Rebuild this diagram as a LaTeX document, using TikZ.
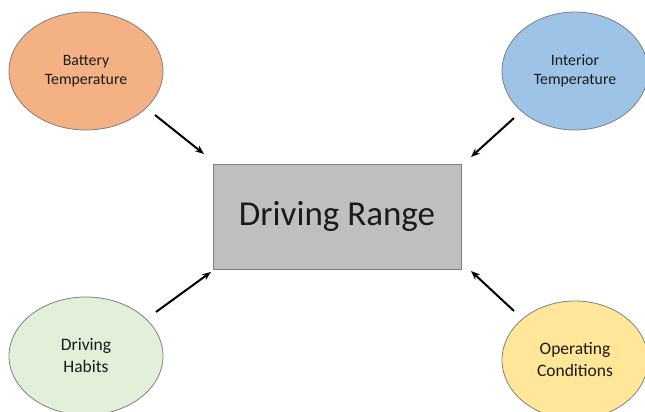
\documentclass[tikz,border=0pt]{standalone}
\usepackage{fontspec}
\setmainfont{Carlito}
\usetikzlibrary{shapes.geometric,arrows.meta}
\definecolor{corange}{HTML}{F4B183}
\definecolor{cblue}{HTML}{9DC3E6}
\definecolor{cgreen}{HTML}{E2F0D9}
\definecolor{cyellow}{HTML}{FFE699}
\definecolor{cgray}{HTML}{BFBFBF}
\definecolor{cborder}{HTML}{7F7F7F}
\definecolor{ctext}{HTML}{1A1A1A}
\tikzset{
  factor/.style={ellipse, draw=cborder, line width=0.8pt, align=center, inner sep=0pt, text=ctext},
  smalltxt/.style={font=\fontsize{15.8}{19.5}\selectfont},
  bigtxt/.style={font=\fontsize{17.5}{22}\selectfont},
  arr/.style={-{Stealth[length=9pt,width=7pt]}, line width=2pt, black},
}
\begin{document}
\begin{tikzpicture}[x=1pt,y=-1pt]
\useasboundingbox (0,0) rectangle (645,412);
\node[draw=cborder, fill=cgray, line width=0.8pt, minimum width=248pt, minimum height=105pt, text=ctext, font=\fontsize{35}{40}\selectfont] (range) at (337,216.5) {Driving Range};
\node[factor, fill=corange, smalltxt, minimum width=154pt, minimum height=118pt] (bt) at (86,71) {Battery\\Temperature};
\node[factor, fill=cblue, smalltxt, minimum width=146pt, minimum height=118pt] (it) at (575,71) {Interior\\Temperature};
\node[factor, fill=cgreen, bigtxt, minimum width=154pt, minimum height=118pt] (dh) at (86,356) {Driving\\Habits};
\node[factor, fill=cyellow, bigtxt, minimum width=146pt, minimum height=118pt] (oc) at (575,360) {Operating\\Conditions};
\coordinate (a1) at (155,115); \coordinate (b1) at (204,154);
\coordinate (a2) at (514,118); \coordinate (b2) at (471,157);
\coordinate (a3) at (156,312); \coordinate (b3) at (211,272);
\coordinate (a4) at (514,311); \coordinate (b4) at (471,271);
\draw[arr] (a1) -- (b1);
\draw[arr] (a2) -- (b2);
\draw[arr] (a3) -- (b3);
\draw[arr] (a4) -- (b4);
\end{tikzpicture}
\end{document}
